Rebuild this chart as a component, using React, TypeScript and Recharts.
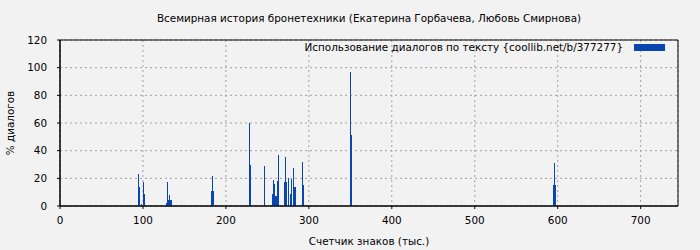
import { Bar, BarChart, CartesianGrid, Label, ReferenceArea, XAxis, YAxis } from 'recharts';

const title = 'Всемирная история бронетехники (Екатерина Горбачева, Любовь Смирнова)';
const seriesName = 'Использование диалогов по тексту {coollib.net/b/377277}';
const xTitle = 'Счетчик знаков (тыс.)';
const yTitle = '% диалогов';

// thousands of characters -> share of dialogue in that chunk
const positions = [
  95, 96, 98, 101, 102,
  128, 129, 130, 131, 132, 133, 134,
  183, 184, 185,
  228, 229, 230,
  246, 247,
  256, 257, 258, 259, 260, 261, 262, 263,
  271, 272, 273, 275, 276, 278, 279, 281, 282, 283, 284,
  292, 293,
  350, 351, 352,
  595, 596, 597
];
const percents = [
  23, 14, 1.5, 17.5, 8.6,
  2.4, 8.6, 17.5, 4.5, 8, 4.5, 4.5,
  11, 22, 11,
  32, 60, 30,
  29, 14.5,
  9, 19, 7, 16, 7, 7, 18, 37,
  17.5, 35.5, 17.5, 1.8, 20, 9, 19.5, 14, 27.5, 13.5, 13.5,
  32, 15,
  97, 51, 2.6,
  15, 31, 15
];

const xTicks = [0, 100, 200, 300, 400, 500, 600, 700];
const yTicks = [0, 20, 40, 60, 80, 100, 120];
const xMax = 745;

const data = positions.map((pos, i) => ({ pos, pct: percents[i] }));

const font = '"DejaVu Sans", sans-serif';
const textSize = 10.4;
const barColor = '#0a46b0';

// bins are narrower than a pixel, so draw each one as a crisp 1px column
const Spike = (p: any) => {
  if (!p.height) return null;
  const cx = p.x + p.width / 2;
  return (
    <rect
      x={Math.floor(cx)}
      y={p.y}
      width={1}
      height={p.height}
      fill={barColor}
      shapeRendering="crispEdges"
    />
  );
};

const YTitle = ({ viewBox }: any) => {
  const cy = viewBox.y + viewBox.height / 2;
  return (
    <text
      x={10}
      y={cy}
      transform={`rotate(-90 10 ${cy})`}
      textAnchor="middle"
      dominantBaseline="central"
      fontFamily={font}
      fontSize={textSize}
      fill="#000"
    >
      {yTitle}
    </text>
  );
};

export default function App() {
  return (
    <div style={{ position: 'relative', width: 700, height: 250, background: '#f2f2f2', fontFamily: font }}>
      <style>{'body{margin:0;background:#f2f2f2}'}</style>
      <div
        style={{
          position: 'absolute',
          left: 60,
          width: 618,
          top: 12,
          textAlign: 'center',
          fontSize: textSize,
          lineHeight: '12px',
          color: '#000'
        }}
      >
        {title}
      </div>
      <BarChart
        width={700}
        height={250}
        data={data}
        margin={{ top: 40, right: 22, left: 0, bottom: 0 }}
      >
        <CartesianGrid stroke="#a0a0a0" strokeDasharray="2 3" />
        <XAxis
          type="number"
          dataKey="pos"
          domain={[0, xMax]}
          ticks={xTicks}
          allowDataOverflow
          height={44}
          tickSize={3}
          tickMargin={8}
          stroke="#000"
          tick={{ fill: '#000', fontSize: textSize, fontFamily: font }}
        >
          <Label
            value={xTitle}
            position="insideBottom"
            offset={5}
            fill="#000"
            fontSize={textSize}
            fontFamily={font}
          />
        </XAxis>
        <YAxis
          type="number"
          domain={[0, 120]}
          ticks={yTicks}
          width={60}
          tickSize={3}
          tickMargin={10}
          stroke="#000"
          tick={{ fill: '#000', fontSize: textSize, fontFamily: font }}
        >
          <Label content={<YTitle />} />
        </YAxis>
        <Bar
          dataKey="pct"
          name={seriesName}
          fill={barColor}
          shape={<Spike />}
          isAnimationActive={false}
        />
        <ReferenceArea x1={0} x2={xMax} y1={0} y2={120} fill="none" stroke="#000" strokeOpacity={1} />
      </BarChart>
      <div
        style={{
          position: 'absolute',
          right: 77,
          top: 41,
          fontSize: textSize,
          lineHeight: '12px',
          color: '#000',
          whiteSpace: 'nowrap'
        }}
      >
        {seriesName}
      </div>
      <div style={{ position: 'absolute', left: 634, top: 44, width: 31, height: 7, background: barColor }} />
    </div>
  );
}
